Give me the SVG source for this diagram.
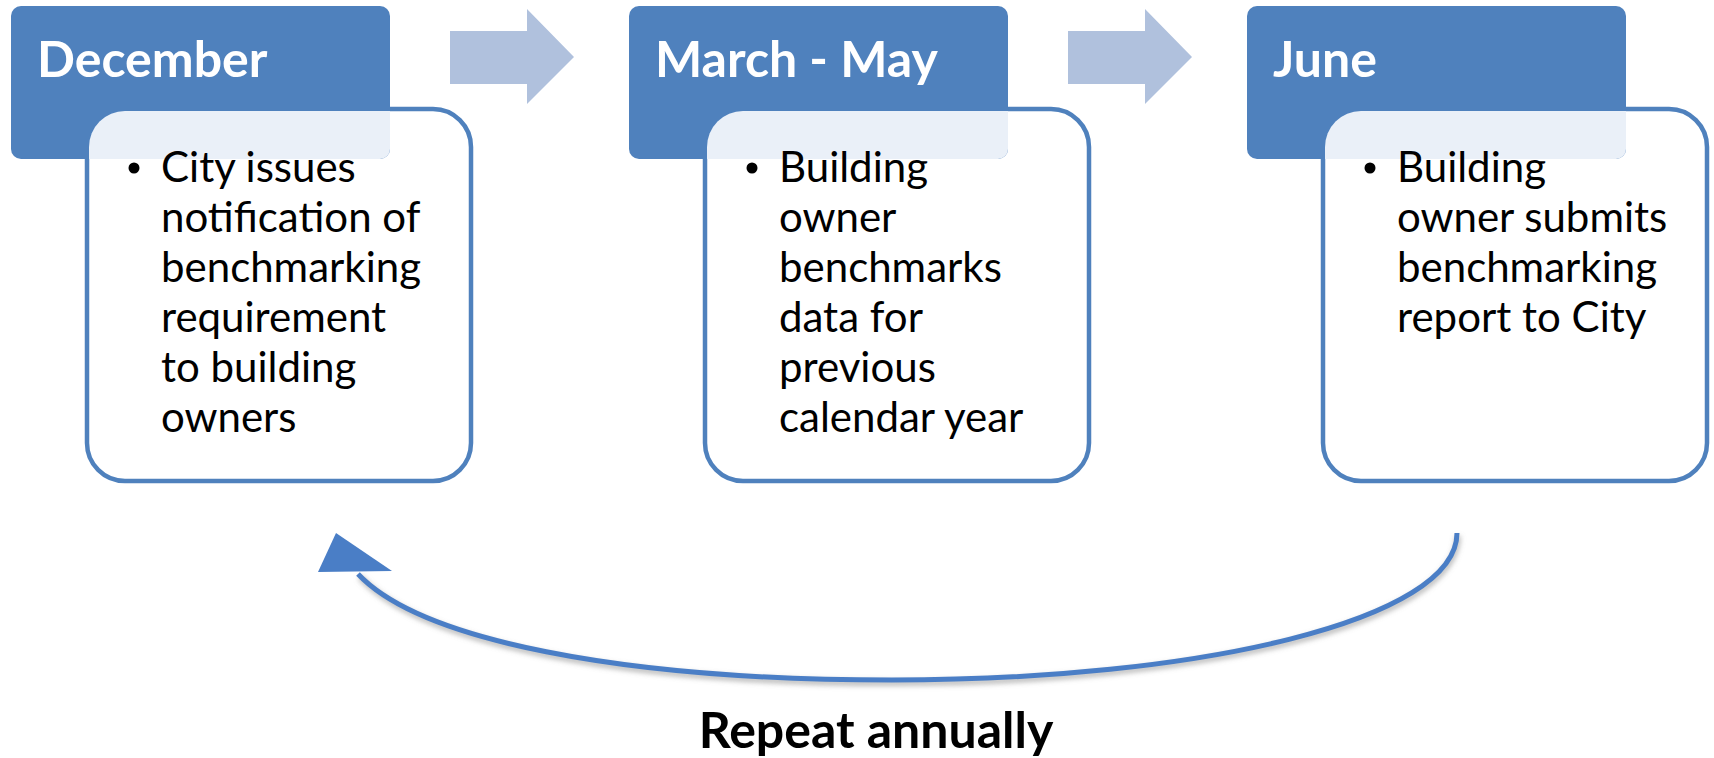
<svg xmlns="http://www.w3.org/2000/svg" width="1714" height="758" viewBox="0 0 1714 758">
<defs>
<style>
.box{fill:#FFFFFF;stroke:#4F81BD;stroke-width:4.5}
.hdr{fill:#4F81BD}
.ovl{fill:#EAF0F8}
.htxt{font-family:Lato,"Liberation Sans",sans-serif;font-weight:bold;font-size:50px;fill:#FFFFFF}
.btxt{font-family:Lato,"Liberation Sans",sans-serif;font-size:42px;fill:#000000}
.step{fill:#B0C1DD}
.loop{fill:none;stroke:#4A7EC6;stroke-width:5}
.rep{font-family:Lato,"Liberation Sans",sans-serif;font-weight:bold;font-size:50px;fill:#000000}
</style>
<filter id="sh" x="-10%" y="-30%" width="120%" height="160%">
<feGaussianBlur stdDeviation="2.5"/>
</filter>
</defs>
<rect width="1714" height="758" fill="#FFFFFF"/>
<g id="connectors">
<polygon class="step" points="450,31 527,31 527,9 574,57 527,104 527,84 450,84"/>
<polygon class="step" points="1068,31 1145,31 1145,9 1192,57 1145,104 1145,84 1068,84"/>
<g id="repeat-loop">
<path d="M1458,536 C1458,623 1201,683 892,683 C620,683 420,643 360,577" fill="none" stroke="#7F7F7F" stroke-opacity="0.5" stroke-width="6" filter="url(#sh)"/>
<path class="loop" d="M1457,533 C1457,620 1200,680 892,680 C620,680 420,640 358,574"/>
<polygon points="336,533 318,572 392,571" fill="#4A7EC6"/>
</g>
</g>
<g id="node-december" transform="translate(11,0)">
<rect class="box" x="76" y="109" width="384" height="372" rx="38"/>
<rect class="hdr" x="0" y="6" width="379" height="153" rx="10"/>
<path class="ovl" d="M114,111 H379 V149 A10,10 0 0 1 369,159 H78 V147 A36,36 0 0 1 114,111 Z"/>
<text class="htxt" x="26" y="77">December</text>
<circle cx="123" cy="168" r="5.5"/>
<text class="btxt"><tspan x="150" y="182">City issues</tspan><tspan x="150" y="232">notification of</tspan><tspan x="150" y="282">benchmarking</tspan><tspan x="150" y="332">requirement</tspan><tspan x="150" y="382">to building</tspan><tspan x="150" y="432">owners</tspan></text>
</g>
<g id="node-march-may" transform="translate(629,0)">
<rect class="box" x="76" y="109" width="384" height="372" rx="38"/>
<rect class="hdr" x="0" y="6" width="379" height="153" rx="10"/>
<path class="ovl" d="M114,111 H379 V149 A10,10 0 0 1 369,159 H78 V147 A36,36 0 0 1 114,111 Z"/>
<text class="htxt" x="26" y="77">March - May</text>
<circle cx="123" cy="168" r="5.5"/>
<text class="btxt"><tspan x="150" y="182">Building</tspan><tspan x="150" y="232">owner</tspan><tspan x="150" y="282">benchmarks</tspan><tspan x="150" y="332">data for</tspan><tspan x="150" y="382">previous</tspan><tspan x="150" y="432">calendar year</tspan></text>
</g>
<g id="node-june" transform="translate(1247,0)">
<rect class="box" x="76" y="109" width="384" height="372" rx="38"/>
<rect class="hdr" x="0" y="6" width="379" height="153" rx="10"/>
<path class="ovl" d="M114,111 H379 V149 A10,10 0 0 1 369,159 H78 V147 A36,36 0 0 1 114,111 Z"/>
<text class="htxt" x="26" y="77">June</text>
<circle cx="123" cy="168" r="5.5"/>
<text class="btxt"><tspan x="150" y="182">Building</tspan><tspan x="150" y="232">owner submits</tspan><tspan x="150" y="282">benchmarking</tspan><tspan x="150" y="332">report to City</tspan></text>
</g>
<g id="label-repeat">
<text class="rep" x="876" y="748" text-anchor="middle">Repeat annually</text>
</g>
</svg>
